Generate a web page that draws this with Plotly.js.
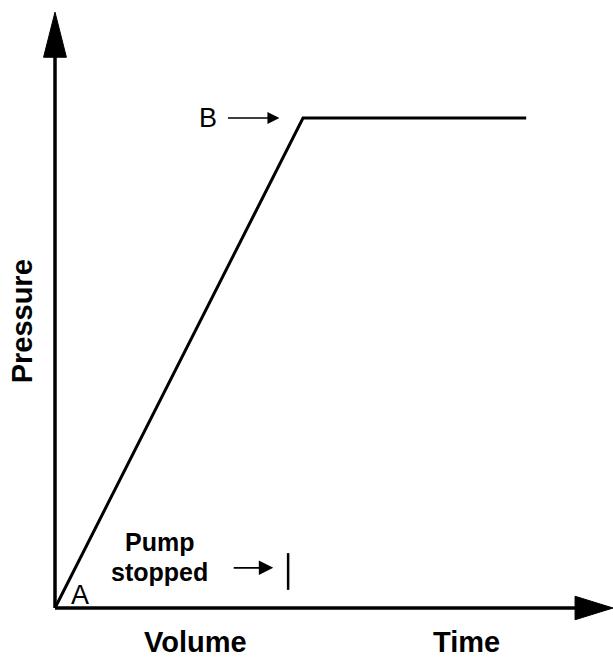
<!DOCTYPE html>
<html>
<head>
<meta charset="utf-8">
<script src="https://cdn.plot.ly/plotly-3.0.1.min.js"></script>
<style>html,body{margin:0;padding:0;background:#fff;}#chart{width:613px;height:660px;}</style>
</head>
<body>
<div id="chart"></div>
<script>
// Data (arbitrary units)
const timePts = [0, 10, 19];      // A at origin, B at 10, end of plateau
const pressure = [0, 10, 10];
const pointLabels = ["A", "B"];
const xLabels = ["Volume", "Time"];
const yLabel = "Pressure";
const pumpLabel = ["Pump", "stopped"];
const pumpStopX = 9.4;

const FONT = "Liberation Sans, Arial, Helvetica, sans-serif";
const xMax = 22.5;

const trace = {
  x: timePts, y: pressure, mode: "lines", type: "scatter",
  line: {color: "#000", width: 3}, hoverinfo: "skip", showlegend: false, cliponaxis: false
};

const shapes = [
  {type: "line", xref: "x", yref: "y", x0: 0, y0: 0, x1: 21.0, y1: 0, line: {color: "#000", width: 3.5}},
  {type: "line", xref: "x", yref: "y", x0: 0, y0: 0, x1: 0, y1: 11.3, line: {color: "#000", width: 3.5}},
  {type: "path", xref: "x", yref: "y", path: "M 20.97,0.24 L 22.5,0 L 20.97,-0.24 Z", fillcolor: "#000", line: {color: "#000", width: 1}},
  {type: "path", xref: "x", yref: "y", path: "M -0.46,11.24 L 0,12.16 L 0.46,11.24 Z", fillcolor: "#000", line: {color: "#000", width: 1}},
  {type: "line", xref: "x", yref: "y", x0: pumpStopX, y0: 0.37, x1: pumpStopX, y1: 1.12, line: {color: "#000", width: 2.5}}
];

const bold = (size) => ({family: FONT, size: size, color: "#000", weight: 700});
const reg = (size) => ({family: FONT, size: size, color: "#000"});

const annotations = [
  {x: 5.65, y: -0.7, xref: "x", yref: "y", text: xLabels[0], showarrow: false, font: bold(29)},
  {x: 16.6, y: -0.7, xref: "x", yref: "y", text: xLabels[1], showarrow: false, font: bold(29)},
  {x: -1.33, y: 5.85, xref: "x", yref: "y", text: yLabel, textangle: -90, showarrow: false, font: bold(29)},
  {x: 1.0, y: 0.27, xref: "x", yref: "y", text: pointLabels[0], showarrow: false, font: reg(27)},
  {x: 6.15, y: 10, xref: "x", yref: "y", text: pointLabels[1], showarrow: false, font: reg(27)},
  {x: 4.23, y: (608 - 542) / 49, xref: "x", yref: "y", text: pumpLabel[0], showarrow: false, font: bold(25)},
  {x: 4.23, y: (608 - 572) / 49, xref: "x", yref: "y", text: pumpLabel[1], showarrow: false, font: bold(25)},
  {x: 9.05, y: 10, xref: "x", yref: "y", text: "", showarrow: true, ax: -53, ay: 0, arrowhead: 2, arrowsize: 1.6, arrowwidth: 1.5, arrowcolor: "#000"},
  {x: 8.8, y: 0.82, xref: "x", yref: "y", text: "", showarrow: true, ax: -41, ay: 0, arrowhead: 2, arrowsize: 1.6, arrowwidth: 1.8, arrowcolor: "#000"}
];

const layout = {
  width: 613, height: 660,
  margin: {l: 0, r: 0, t: 0, b: 0},
  paper_bgcolor: "#fff", plot_bgcolor: "#fff",
  xaxis: {range: [-55 / 24.8, xMax], visible: false, fixedrange: true},
  yaxis: {range: [(608 - 660) / 49, 608 / 49], visible: false, fixedrange: true},
  shapes: shapes,
  annotations: annotations,
  showlegend: false
};

Plotly.newPlot("chart", [trace], layout, {staticPlot: true, displayModeBar: false});
</script>
</body>
</html>
